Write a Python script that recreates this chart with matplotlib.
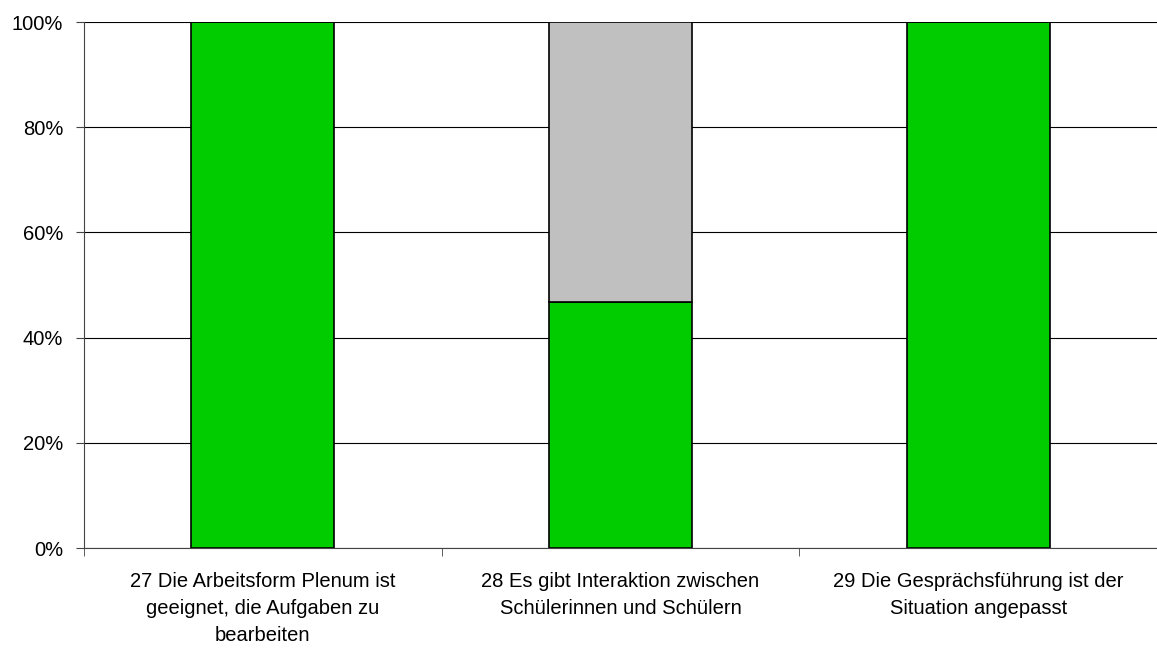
import numpy as np
import matplotlib.pyplot as plt

# values (percent)
labels = ["27 Die Arbeitsform Plenum ist\ngeeignet, die Aufgaben zu\nbearbeiten",
          "28 Es gibt Interaktion zwischen\nSchülerinnen und Schülern",
          "29 Die Gesprächsführung ist der\nSituation angepasst"]
green = [100.0, 46.7, 100.0]
grey = [0.0, 53.3, 0.0]
yticks = [0, 20, 40, 60, 80, 100]

plt.rcParams['font.family'] = ['Liberation Sans', 'DejaVu Sans']

fig = plt.figure(figsize=(11.57, 6.55), dpi=100)
ax = fig.add_axes([84/1157, 1 - 548/655, 1 - 84/1157, (548 - 22)/655])

x = np.arange(len(labels))
ax.bar(x, green, width=0.4, color='#00CC00', edgecolor='black', linewidth=1.2, zorder=3)
ax.bar(x, grey, bottom=green, width=0.4, color='#C0C0C0', edgecolor='black', linewidth=1.2, zorder=3)

ax.set_xlim(-0.5, len(labels) - 0.5)
ax.set_ylim(0, 100)
ax.set_yticks(yticks)
ax.set_yticklabels([f"{v}%" for v in yticks], fontsize=14.5)
ax.yaxis.grid(True, color='black', linewidth=0.8, zorder=0)

ax.set_xticks(x)
ax.set_xticklabels(labels, fontsize=14.5, linespacing=1.55)
ax.tick_params(axis='x', length=0, pad=17)
ax.set_xticks(np.arange(len(labels) + 1) - 0.5, minor=True)
ax.tick_params(axis='x', which='minor', length=6, direction='out', color='#444444')
ax.tick_params(axis='y', length=6, direction='out', color='#444444', pad=9)

ax.spines['top'].set_visible(False)
ax.spines['right'].set_visible(False)
ax.spines['left'].set_color('#444444')
ax.spines['bottom'].set_color('#444444')

fig.savefig('out.png', dpi=100)
